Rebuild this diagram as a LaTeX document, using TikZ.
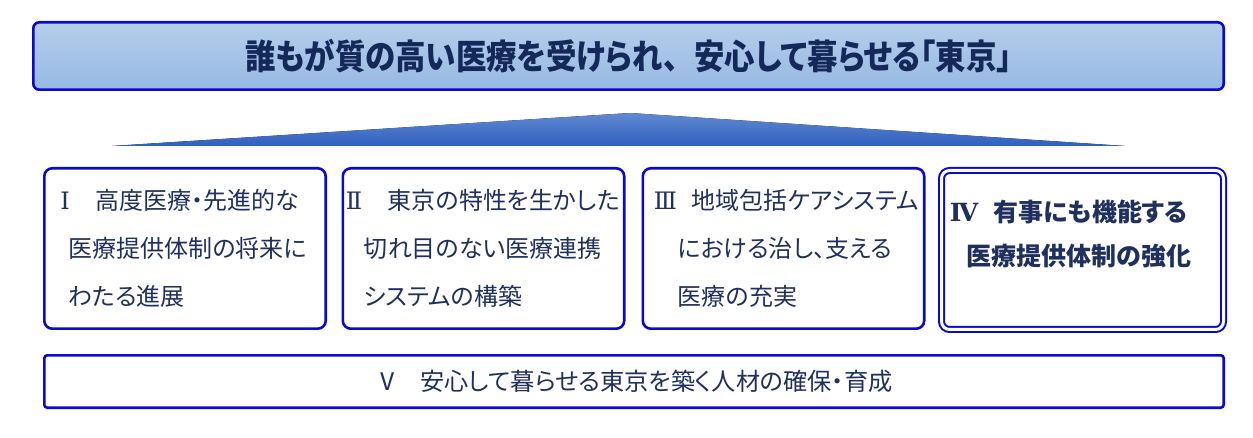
\documentclass[tikz,border=0pt]{standalone}
\usepackage{fontspec}
\setmainfont{Noto Sans CJK JP}[RawFeature=+palt]
\newfontfamily\titlefont{Noto Sans CJK JP}[RawFeature=+palt, FakeStretch=0.88]
\newfontfamily\numfont{DejaVu Serif}
\usepackage{xcolor}
\usepackage{tikz}
\usetikzlibrary{calc}

\definecolor{frameblue}{HTML}{0A0ACC}
\definecolor{textnavy}{HTML}{1F2F5E}
\definecolor{titlenavy}{HTML}{14285A}
\definecolor{bannertop}{HTML}{B5CDEB}
\definecolor{bannerbot}{HTML}{97B9E3}
\definecolor{rooftop}{HTML}{6188D2}
\definecolor{roofbot}{HTML}{2F5FBE}

\newcommand{\numlead}[3]{\hspace*{-#1}\makebox[#2][l]{\numfont #3}}

\tikzset{
    pillar/.style={draw=frameblue, line width=1.3pt, rounded corners=4pt,
        minimum width=140.7pt, minimum height=80.2pt, inner sep=0pt},
    pillartext/.style={anchor=west, align=left, text=textnavy, inner sep=0pt,
        font=\fontsize{12}{24}\selectfont},
}

\begin{document}
\begin{tikzpicture}[x=0.5pt, y=-0.5pt]
    \useasboundingbox (0,0) rectangle (1253,438);

    % goal banner
    \node[draw=frameblue, line width=1.3pt, rounded corners=3pt,
        top color=bannertop, bottom color=bannerbot,
        minimum width=595.2pt, minimum height=33.7pt, text=titlenavy,
        font=\titlefont\bfseries\fontsize{17.3}{17.3}\selectfont] (goal) at (628.5,56)
        {誰もが質の高い医療を受けられ、\hspace{.45em}安心して暮らせる「東京」};

    % roof
    \fill[top color=rooftop, bottom color=roofbot] (112,146) -- (630,113) -- (1125,146) -- cycle;

    % pillars
    \node[pillar] (one) at (185,248.5) {};
    \node[pillar] (two) at (483.5,248.5) {};
    \node[pillar] (three) at (783.5,248.5) {};
    \node[pillar, line width=1pt, double=white, double distance=1.5pt,
        minimum width=141pt, minimum height=79.5pt] (four) at (1082.5,250) {};

    \node[pillartext] (onetext) at ($(one.west)+(25,0)$)
        {\numlead{4pt}{17.5pt}{Ⅰ}高度医療・先進的な\\医療提供体制の将来に\\わたる進展};
    \node[pillartext] (twotext) at ($(two.west)+(22,0)$)
        {\numlead{9pt}{21pt}{Ⅱ}東京の特性を生かした\\切れ目のない医療連携\\システムの構築};
    \node[pillartext] (threetext) at ($(three.west)+(36,0)$)
        {\numlead{12pt}{19pt}{Ⅲ}地域包括ケアシステム\\における治し、支える\\医療の充実};
    \node[pillartext, font=\bfseries\fontsize{12.5}{22}\selectfont] (fourtext) at ($(four.west)+(26,-16)$)
        {\numlead{8.5pt}{22pt}{\bfseries Ⅳ}有事にも機能する\\医療提供体制の強化};

    % base
    \node[draw=frameblue, line width=1.3pt, rounded corners=1.5pt,
        minimum width=589.7pt, minimum height=26.2pt, text=textnavy,
        font=\fontsize{12.1}{12.1}\selectfont] (base) at (634,381.5)
        {Ⅴ\hspace{.85em}安心して暮らせる東京を築く人材の確保・育成};
\end{tikzpicture}
\end{document}
